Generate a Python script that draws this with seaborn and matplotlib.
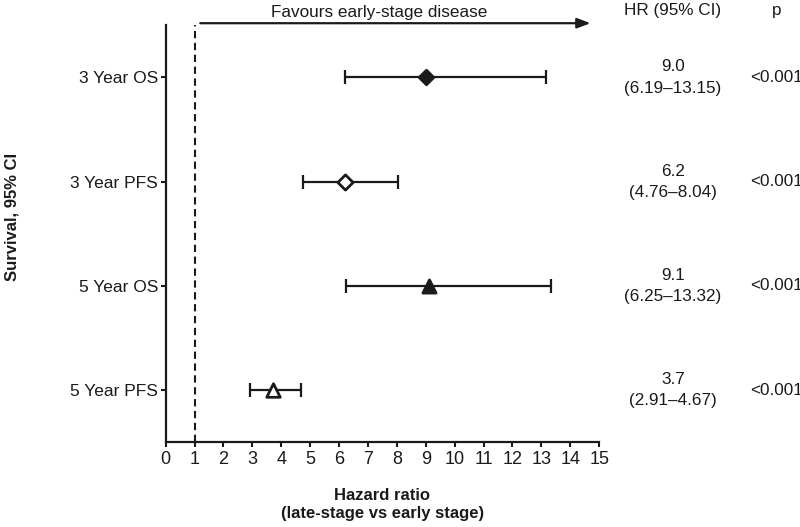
import matplotlib
matplotlib.use("Agg")
import matplotlib.pyplot as plt
import seaborn as sns
import pandas as pd

labels = ["3 Year OS", "3 Year PFS", "5 Year OS", "5 Year PFS"]
hr = [9.0, 6.2, 9.1, 3.7]
ci_low = [6.19, 4.76, 6.25, 2.91]
ci_high = [13.15, 8.04, 13.32, 4.67]
hr_text = ["9.0", "6.2", "9.1", "3.7"]
p_text = ["<0.001", "<0.001", "<0.001", "<0.001"]
xticks = list(range(0, 16))

sns.set_style("ticks")
plt.rcParams['font.family'] = ['Liberation Sans', 'DejaVu Sans']

INK = "#1a1a1a"
df = pd.DataFrame({"label": labels, "hr": hr, "lo": ci_low, "hi": ci_high, "pos": range(len(labels))})

fig = plt.figure(figsize=(8, 5.27), dpi=100)
ax = fig.add_axes([0.207, 0.161, 0.542, 0.791])

# CIs
ax.errorbar(df["hr"], df["pos"], xerr=[df["hr"] - df["lo"], df["hi"] - df["hr"]],
            fmt="none", ecolor=INK, elinewidth=1.6, capsize=5, capthick=1.6, zorder=2)

markers = {"3 Year OS": "D", "3 Year PFS": "D", "5 Year OS": "^", "5 Year PFS": "^"}
fills = {"3 Year OS": INK, "3 Year PFS": "white", "5 Year OS": INK, "5 Year PFS": "white"}
sizes = {"3 Year OS": 55, "3 Year PFS": 60, "5 Year OS": 90, "5 Year PFS": 95}
for lab in labels:
    sub = df[df["label"] == lab]
    sns.scatterplot(data=sub, x="hr", y="pos", marker=markers[lab], s=sizes[lab],
                    color=fills[lab], edgecolor=INK, linewidth=2, ax=ax, zorder=3, legend=False)

ax.axvline(1, color=INK, linestyle=(0, (3.5, 2.2)), linewidth=1.5, zorder=1)

ax.set_xlim(0, 15)
ax.set_ylim(3.5, -0.5)
ax.set_xticks(xticks)
ax.set_xticklabels([str(t) for t in xticks], fontsize=13)
ax.set_yticks(df["pos"])
ax.set_yticklabels(labels, fontsize=12.5)
sns.despine(ax=ax)
for s in ["left", "bottom"]:
    ax.spines[s].set_linewidth(1.6)
    ax.spines[s].set_color(INK)
ax.tick_params(axis="x", length=3.5, width=1.5, colors=INK, pad=3)
ax.tick_params(axis="y", length=3.5, width=1.5, colors=INK, pad=2)

ax.set_xlabel("Hazard ratio\n(late-stage vs early stage)", fontsize=12, fontweight="bold",
              labelpad=14, color=INK, linespacing=1.3)
ax.set_ylabel("Survival, 95% CI", fontsize=12, fontweight="bold", color=INK)
ax.yaxis.set_label_coords(-0.337, 0.54)

# arrow
ax.annotate("", xy=(14.7, -0.52), xytext=(1.2, -0.52), xycoords="data", textcoords="data",
            arrowprops=dict(arrowstyle="-|>,head_length=0.8,head_width=0.3", color=INK, lw=1.6,
                            shrinkA=0, shrinkB=0),
            annotation_clip=False)
ax.text(7.4, -0.625, "Favours early-stage disease", ha="center", va="center", fontsize=12.3, color=INK)

# right columns
cx_hr, cx_p = 17.55, 21.15
ax.text(cx_hr, -0.64, "HR (95% CI)", ha="center", va="center", fontsize=12.3, color=INK, clip_on=False)
ax.text(cx_p, -0.64, "p", ha="center", va="center", fontsize=12.3, color=INK, clip_on=False)
for i in range(len(labels)):
    ax.text(cx_hr, i - 0.1, hr_text[i], ha="center", va="center", fontsize=12.3, color=INK, clip_on=False)
    ax.text(cx_hr, i + 0.105, f"({ci_low[i]:.2f}\u2013{ci_high[i]:.2f})", ha="center", va="center",
            fontsize=12.3, color=INK, clip_on=False)
    ax.text(cx_p, i, p_text[i], ha="center", va="center", fontsize=12.3, color=INK, clip_on=False)

fig.savefig("out.png", dpi=100)
